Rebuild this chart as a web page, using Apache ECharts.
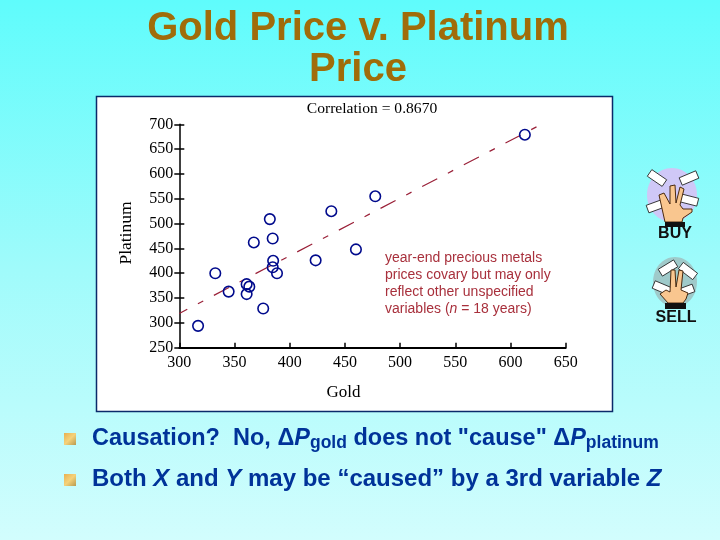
<!DOCTYPE html>
<html>
<head>
<meta charset="utf-8">
<title>Gold Price v. Platinum Price</title>
<script src="https://cdn.jsdelivr.net/npm/echarts@6/dist/echarts.min.js"></script>
<style>
html,body{margin:0;padding:0;}
#main{width:720px;height:540px;}
</style>
</head>
<body>
<div id="main"></div>
<script>
// 18 year-end prices
var goldValues = [317, 332.6, 344.7, 361, 363.4, 361, 376, 385, 384.6, 388.5, 423.5, 460, 367.5, 384.6, 382, 437.7, 477.5, 613];
var platinumValues = [294, 400, 363, 378, 373, 358, 329, 425, 412, 400, 426, 448, 462, 470, 509, 525, 555, 679];
var trendGold = [300, 623.7];
var trendPlatinum = [319, 695];
var chartTitle = 'Gold Price v. Platinum\nPrice';
var correlationText = 'Correlation = 0.8670';
var xAxisName = 'Gold';
var yAxisName = 'Platinum';
var noteLines = ['year-end precious metals', 'prices covary but may only', 'reflect other unspecified'];

var serif = '"Liberation Serif"';
var sans = '"Liberation Sans"';
var blue = '#003399';

var scatterData = goldValues.map(function(g, i){ return [g, platinumValues[i]]; });
var trendData = trendGold.map(function(g, i){ return [g, trendPlatinum[i]]; });

function bullet(y){
    return {type:'rect', shape:{x:64,y:y,width:12,height:12}, style:{fill:{type:'linear',x:0,y:0,x2:1,y2:1,colorStops:[{offset:0,color:'#e8b050'},{offset:0.5,color:'#f5d27a'},{offset:1,color:'#b89a50'}]}}};
}

// card stuck around the hand
function card(x, y, rot){
    return {type:'rect', x:x, y:y, rotation:rot, shape:{x:-9,y:-4,width:18,height:8}, style:{fill:'#fff', stroke:'#222', lineWidth:0.8}};
}

function hand(points){
    return {type:'polygon', shape:{points:points}, style:{fill:'#f9c68f', stroke:'#4a2a10', lineWidth:1}};
}

var graphics = [
    {type:'rect', z:-1, shape:{x:96.5,y:96.5,width:516,height:315}, style:{fill:'#fff', stroke:'#0a2a6a', lineWidth:1.5}},
    {type:'text', x:372, y:108.5, style:{text:correlationText, font:'15.6px '+serif, fill:'#000', align:'center', verticalAlign:'middle'}},
    // note
    {type:'text', x:385, y:284, style:{
        text:noteLines.map(function(l){ return '{t|'+l+'}'; }).join('\n')+'\n{t|variables (}{i|n}{t| = 18 years)}',
        verticalAlign:'middle', align:'left',
        rich:{
            t:{font:'14px '+sans, fill:'#a8303c', lineHeight:17},
            i:{font:'italic 14px '+sans, fill:'#a8303c', lineHeight:17}
        }
    }},
    // bottom text
    bullet(433),
    bullet(474),
    {type:'text', x:92, y:439, style:{
        text:'{t|Causation?  No, \u0394}{i|P}{s|gold}{t| does not "cause" \u0394}{i|P}{s|platinum}',
        verticalAlign:'middle',
        rich:{
            t:{font:'bold 23.5px '+sans, fill:blue},
            i:{font:'italic bold 23.5px '+sans, fill:blue},
            s:{font:'bold 17.5px '+sans, fill:blue, padding:[9,0,0,0]}
        }
    }},
    {type:'text', x:92, y:479, style:{
        text:'{t|Both }{i|X}{t| and }{i|Y}{t| may be \u201ccaused\u201d by a 3rd variable }{i|Z}',
        verticalAlign:'middle',
        rich:{
            t:{font:'bold 24px '+sans, fill:blue},
            i:{font:'italic bold 24px '+sans, fill:blue}
        }
    }},
    // BUY icon
    {type:'ellipse', shape:{cx:672,cy:195,rx:25,ry:27}, style:{fill:'#cfc8f7'}},
    card(657,178,-0.6), card(689,178,0.4), card(656,206,0.35), card(689,200,-0.25),
    hand([[665,222],[659,195],[664,193],[670,204],[670,186],[675,185],[676,203],[680,187],[684,189],[680,205],[683,209],[692,209],[692,212],[683,218],[682,222]]),
    {type:'rect', shape:{x:665,y:222,width:20,height:5}, style:{fill:'#111'}},
    {type:'text', x:675, y:234, style:{text:'BUY', font:'bold 16px '+sans, fill:'#111', align:'center', verticalAlign:'middle'}},
    // SELL icon
    {type:'ellipse', shape:{cx:675,cy:282,rx:22,ry:25}, style:{fill:'#9fcaca'}},
    card(668,268,0.55), card(688,271,-0.65), card(662,288,-0.4), card(685,291,0.35),
    hand([[668,303],[660,294],[666,290],[670,292],[671,270],[675,270],[676,287],[679,270],[683,271],[681,290],[688,293],[686,299],[683,303]]),
    {type:'rect', shape:{x:665,y:303,width:21,height:6}, style:{fill:'#111'}},
    {type:'text', x:676, y:318, style:{text:'SELL', font:'bold 16px '+sans, fill:'#111', align:'center', verticalAlign:'middle'}}
];

var option = {
    animation:false,
    backgroundColor:{type:'linear',x:0,y:0,x2:0,y2:1,colorStops:[{offset:0,color:'#5ffcfc'},{offset:0.5,color:'#a0fbfb'},{offset:1,color:'#d2fdfd'}]},
    title:{
        text:chartTitle,
        left:353,
        top:3,
        textAlign:'center',
        textStyle:{fontFamily:sans, fontWeight:'bold', fontSize:40, lineHeight:41, color:'#a06c0a'}
    },
    grid:{left:179.3, top:124.3, width:386.4, height:223.4},
    xAxis:{
        type:'value', min:300, max:650, interval:50,
        name:xAxisName, nameLocation:'middle', nameGap:36,
        nameTextStyle:{fontFamily:serif, fontSize:17, color:'#000', padding:[0,58,0,0]},
        axisLine:{onZero:false, lineStyle:{color:'#000', width:2}},
        axisTick:{inside:true, length:5, lineStyle:{color:'#000', width:1.5}},
        axisLabel:{fontFamily:serif, fontSize:16, color:'#000', margin:7},
        splitLine:{show:false}
    },
    yAxis:[{
        type:'value', min:250, max:700, interval:50,
        name:yAxisName, nameLocation:'middle', nameGap:44, nameRotate:90,
        nameTextStyle:{fontFamily:serif, fontSize:17.5, color:'#000', padding:[0,0,0,6]},
        axisLine:{show:true, onZero:false, lineStyle:{color:'#000', width:1.5}},
        axisTick:{show:true, length:5, lineStyle:{color:'#000', width:1.5}},
        axisLabel:{fontFamily:serif, fontSize:16, color:'#000', margin:6},
        splitLine:{show:false}
    },{
        type:'value', min:250, max:700, interval:50, position:'left',
        axisLine:{show:false},
        axisTick:{show:true, inside:true, length:5, lineStyle:{color:'#000', width:1.5}},
        axisLabel:{show:false},
        splitLine:{show:false}
    }],
    series:[{
        type:'line', xAxisIndex:0, yAxisIndex:0, data:trendData, showSymbol:false, silent:true,
        lineStyle:{color:'#9a2038', width:1.2, type:[17,12,6,12], dashOffset:8}
    },{
        type:'scatter', xAxisIndex:0, yAxisIndex:0, data:scatterData, symbol:'circle', symbolSize:10.5, z:5,
        itemStyle:{color:'rgba(255,255,255,0)', borderColor:'#000a8c', borderWidth:1.6, opacity:1}
    }],
    graphic:graphics
};

var chart = echarts.init(document.getElementById('main'), null, {renderer:'canvas'});
chart.setOption(option, true);
</script>
</body>
</html>
